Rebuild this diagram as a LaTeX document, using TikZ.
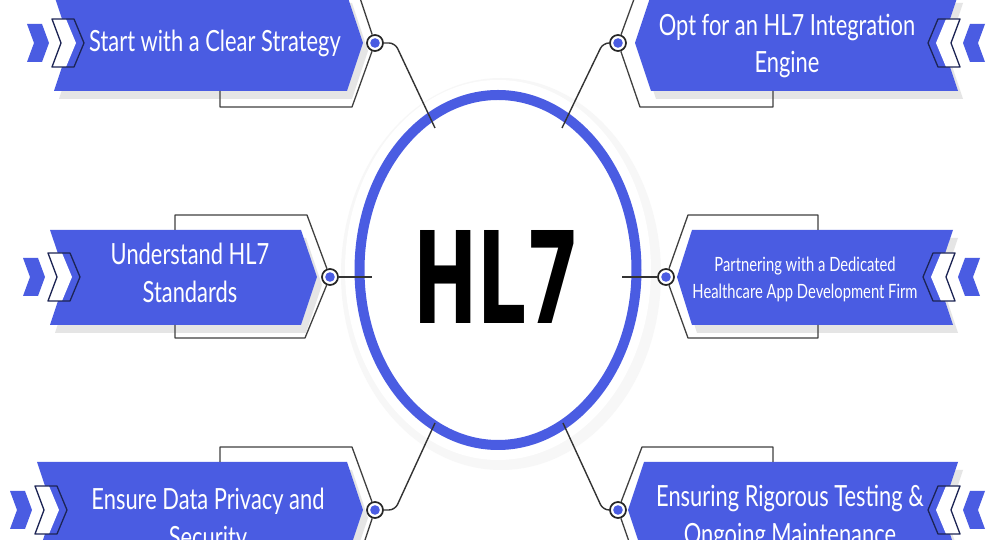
\documentclass[tikz,border=0pt]{standalone}
\usepackage{fontspec}
\usepackage{graphicx}
\newfontfamily\labelfont[FakeStretch=0.75]{Lato}
\newfontfamily\hubfont{DejaVu Sans}
\definecolor{hlblue}{RGB}{74,92,226}
\definecolor{navy}{RGB}{28,36,84}
\usetikzlibrary{shapes.geometric}

\begin{document}
\begin{tikzpicture}[
      x=0.1mm, y=-0.1mm,
      banner/.style={
        fill=hlblue,
        preaction={fill=black!10, transform canvas={xshift=0.5mm, yshift=-0.8mm}}
      },
      bracket/.style={
        draw=black!75, line width=0.13mm, line join=round
      },
      wire/.style={
        draw=black!80, line width=0.14mm, rounded corners=0.6mm
      },
      dot/.style={
        circle, draw=black!85, line width=0.17mm, fill=white,
        minimum size=1.6mm, inner sep=0pt,
        path picture={\fill[hlblue] (path picture bounding box.center) circle (0.48mm);}
      },
      bannertext/.style={
        text=white, align=center, inner sep=0pt,
        font=\labelfont\fontsize{8.3}{10.8}\selectfont
      },
      smalltext/.style={
        bannertext, font=\labelfont\fontsize{5.6}{7.7}\selectfont
      },
      chevrons/.pic={
        \fill[hlblue] (-27,-19) -- (-12,-19) -- (-5,0) -- (-12,19) -- (-27,19) -- (-20,0) -- cycle;
        \fill[white] (-2,-24) -- (12,-24) -- (22,0) -- (12,24) -- (-2,24) -- (8,0) -- cycle;
        \draw[navy, line width=0.13mm, line join=round] (-2,-24) -- (20,-24) -- (30,0) -- (20,24) -- (-2,24) -- (7,0) -- cycle;
      }
    ]
    \useasboundingbox (0,0) rectangle (1000,540);
    \clip (0,0) rectangle (1000,540);
    \fill[white] (0,0) rectangle (1000,540);

    % hub
    \fill[black!3] (501,274) ellipse [x radius=16mm, y radius=19.6mm];
    \fill[white] (498,270) ellipse [x radius=15.3mm, y radius=19mm];
    \node[ellipse, draw=hlblue, line width=1mm, minimum width=27.7mm, minimum height=35mm, inner sep=0pt] (hub) at (498,270) {};
    \node (hl7) at (497,277) {\resizebox{16.7mm}{9.3mm}{\hubfont\bfseries HL7}};

    % banners
    \path[banner] (54,-5) -- (347,-5) -- (363,43) -- (347,91) -- (54,91) -- (70,43) -- cycle;
    \path[banner] (50,230) -- (301,230) -- (317,277) -- (301,325) -- (50,325) -- (66,277) -- cycle;
    \path[banner] (37,462) -- (347,462) -- (363,510) -- (347,558) -- (37,558) -- (53,510) -- cycle;
    \path[banner] (958,-5) -- (651,-5) -- (635,43) -- (651,91) -- (958,91) -- (942,43) -- cycle;
    \path[banner] (953,230) -- (692,230) -- (677,277) -- (692,325) -- (953,325) -- (937,277) -- cycle;
    \path[banner] (958,462) -- (644,462) -- (628,510) -- (644,558) -- (958,558) -- (942,510) -- cycle;

    \pic at (54,43) {chevrons};
    \pic at (50,277) {chevrons};
    \pic at (37,510) {chevrons};
    \pic[xscale=-1] at (958,43) {chevrons};
    \pic[xscale=-1] at (953,277) {chevrons};
    \pic[xscale=-1] at (958,510) {chevrons};

    \node[dot] (d1) at (375,43) {};
    \node[dot] (d2) at (330,277) {};
    \node[dot] (d3) at (375,510) {};
    \node[dot] (d4) at (618,43) {};
    \node[dot] (d5) at (666,277) {};
    \node[dot] (d6) at (618,510) {};

    \draw[bracket] (220,91) -- (220,107) -- (352,107) -- (d1) -- (354,-20);
    \draw[bracket] (175,230) -- (175,215) -- (307,215) -- (d2) -- (305,338) -- (175,338) -- (175,325);
    \draw[bracket] (220,462) -- (220,447) -- (352,447) -- (d3) -- (354,573);
    \draw[bracket] (773,91) -- (773,107) -- (640,107) -- (d4) -- (641,-20);
    \draw[bracket] (818,230) -- (818,215) -- (688,215) -- (d5) -- (688,338) -- (818,338) -- (818,325);
    \draw[bracket] (773,462) -- (773,447) -- (642,447) -- (d6) -- (640,573);

    % links to the ring
    \coordinate (e1) at (435,128);
    \coordinate (e2) at (372,277);
    \coordinate (e3) at (435,423);
    \coordinate (e4) at (562,128);
    \coordinate (e5) at (622,277);
    \coordinate (e6) at (563,423);
    \draw[wire] (d1) -- (395,43) -- (e1);
    \draw[wire] (d2) -- (e2);
    \draw[wire] (d3) -- (395,510) -- (e3);
    \draw[wire] (d4) -- (603,43) -- (e4);
    \draw[wire] (d5) -- (e5);
    \draw[wire] (d6) -- (603,510) -- (e6);

    \node[bannertext] (t1) at (215,43) {Start with a Clear Strategy};
    \node[bannertext] (t2) at (190,273) {Understand HL7\\Standards};
    \node[bannertext] (t3) at (208,520) {Ensure Data Privacy and\\Security};
    \node[bannertext] (t4) at (787,46) {Opt for an HL7 Integration\\Engine};
    \node[smalltext] (t5) at (805,279) {Partnering with a Dedicated\\Healthcare App Development Firm};
    \node[bannertext] (t6) at (790,517) {Ensuring Rigorous Testing \&\\Ongoing Maintenance};

  \end{tikzpicture}
\end{document}
